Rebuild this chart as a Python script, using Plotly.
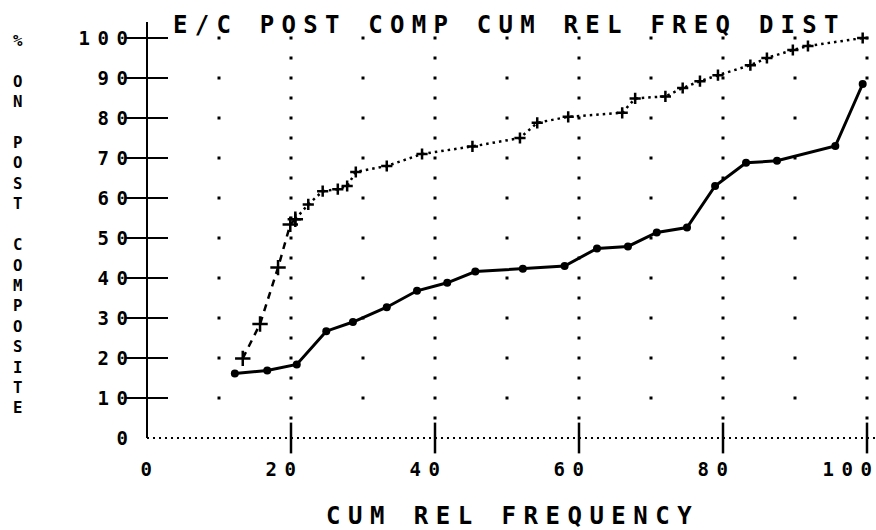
import plotly.graph_objects as go

# ---------------- data ----------------
title_text = "E/C POST COMP CUM REL FREQ DIST"
x_title = "CUM REL FREQUENCY"
y_title = "% ON POST COMPOSITE"

x_ticks = [0, 20, 40, 60, 80, 100]
y_ticks = [0, 10, 20, 30, 40, 50, 60, 70, 80, 90, 100]

# control group (solid line, filled dots)
lower_x = [12.2, 16.7, 20.8, 24.9, 28.6, 33.3, 37.5, 41.7, 45.6, 52.2,
           58.0, 62.5, 66.8, 70.8, 75.0, 78.9, 83.2, 87.5, 95.6, 99.4]
lower_y = [16.1, 16.9, 18.4, 26.7, 29.0, 32.7, 36.8, 38.8, 41.6, 42.3,
           43.0, 47.4, 47.9, 51.4, 52.6, 63.0, 68.8, 69.3, 73.0, 88.5]

# experimental group (dotted line, plus markers)
upper_x = [13.3, 15.7, 18.2, 19.9, 20.6, 22.4, 24.4, 26.5, 27.8, 29.0,
           33.3, 38.2, 45.2, 51.8, 54.2, 58.5, 66.0, 67.8, 72.0, 74.4,
           76.8, 79.3, 83.8, 86.1, 89.7, 91.8, 99.4]
upper_y = [19.9, 28.5, 42.6, 53.4, 54.7, 58.4, 61.7, 62.2, 63.0, 66.5,
           68.0, 71.0, 72.9, 75.0, 78.8, 80.3, 81.3, 84.9, 85.4, 87.5,
           89.2, 90.7, 93.2, 95.0, 97.0, 98.0, 100.0]
steep_end = 5  # first points drawn with the dashed stroke

# ---------------- styling ----------------
FONT = "DejaVu Sans Mono"
INK = "#000000"


def spaced(text, s):
    """Wide plotter-style lettering: extra spacing between characters only."""
    if len(text) < 2:
        return text
    return f'<span style="letter-spacing:{s}px">{text[:-1]}</span>{text[-1]}'


fig = go.Figure()

# dotted grid: dense columns at major x ticks, sparse at half ticks
major_cols = x_ticks[1:]
minor_cols = [(a + b) / 2 for a, b in zip(x_ticks[:-1], x_ticks[1:])]
half_rows = [(a + b) / 2 for a, b in zip(y_ticks[:-1], y_ticks[1:])]
gx, gy = [], []
for c in major_cols:
    for r in sorted(y_ticks[1:] + half_rows):
        gx.append(c)
        gy.append(r)
for c in minor_cols:
    for r in y_ticks[1:]:
        gx.append(c)
        gy.append(r)
fig.add_trace(go.Scatter(x=gx, y=gy, mode="markers", cliponaxis=False,
                         marker=dict(symbol="square", size=3, color=INK),
                         hoverinfo="skip", showlegend=False))

# y-axis tick crosses and x-axis tick bars
fig.add_trace(go.Scatter(x=[0] * (len(y_ticks) - 1), y=y_ticks[1:], mode="markers",
                         cliponaxis=False,
                         marker=dict(symbol="line-ew", size=30,
                                     line=dict(color=INK, width=2)),
                         hoverinfo="skip", showlegend=False))
fig.add_trace(go.Scatter(x=x_ticks[1:], y=[0] * (len(x_ticks) - 1), mode="markers",
                         cliponaxis=False,
                         marker=dict(symbol="line-ns", size=22,
                                     line=dict(color=INK, width=2.5)),
                         hoverinfo="skip", showlegend=False))

# lower series
fig.add_trace(go.Scatter(x=lower_x, y=lower_y, mode="lines+markers", cliponaxis=False,
                         line=dict(color=INK, width=3),
                         marker=dict(symbol="circle", size=8, color=INK),
                         showlegend=False))

# upper series: dashed steep start, dotted afterwards
fig.add_trace(go.Scatter(x=upper_x[:steep_end], y=upper_y[:steep_end],
                         mode="lines+markers", cliponaxis=False,
                         line=dict(color=INK, width=2.5, dash="7px,6px"),
                         marker=dict(symbol="cross-thin-open", size=11,
                                     line=dict(color=INK, width=2.5)),
                         showlegend=False))
fig.add_trace(go.Scatter(x=upper_x[steep_end - 1:], y=upper_y[steep_end - 1:],
                         mode="lines+markers", cliponaxis=False,
                         line=dict(color=INK, width=2.5, dash="2.5px,4px"),
                         marker=dict(symbol="cross-thin-open", size=8,
                                     line=dict(color=INK, width=2.5)),
                         showlegend=False))

TICK_FS = 19
TICK_SP = 7.6
tick_font = dict(family=FONT, size=TICK_FS, color=INK, weight="bold")
fig.update_xaxes(range=[0, 100], showgrid=False, zeroline=False, showline=False,
                 automargin=False, ticks="", tickvals=x_ticks,
                 ticktext=[spaced(str(v), TICK_SP) for v in x_ticks],
                 ticklabelposition="outside left", ticklabelshift=5,
                 ticklabeloverflow="allow", ticklabelstandoff=18,
                 tickfont=tick_font)
fig.update_yaxes(range=[0, 100], showgrid=False, zeroline=False, showline=False,
                 automargin=False, ticks="", tickvals=y_ticks,
                 ticktext=[spaced(str(v), TICK_SP) for v in y_ticks],
                 ticklabelstandoff=18, ticklabeloverflow="allow",
                 tickfont=tick_font)

shapes = [
    # solid y axis, slightly taller than the plot
    dict(type="line", xref="paper", yref="paper", x0=0, x1=0, y0=0, y1=1.04,
         line=dict(color=INK, width=2)),
    # dotted x axis
    dict(type="line", xref="paper", yref="paper", x0=0, x1=1.012, y0=0, y1=0,
         line=dict(color=INK, width=2, dash="2px,4px")),
]

title_font = dict(family=FONT, size=24, color=INK, weight="bold")
annotations = [
    dict(text=spaced(title_text, 7.25), xref="paper", yref="paper",
         x=0.0333, y=1.032, xanchor="left", yanchor="middle", showarrow=False,
         font=title_font),
    dict(text=spaced(x_title, 7.5), xref="paper", yref="paper",
         x=0.503, y=-0.195, xanchor="center", yanchor="middle", showarrow=False,
         font=title_font),
    dict(text="<br><br>".join("<br>".join(w) for w in y_title.split(" ")),
         xref="paper", yref="paper", x=-0.179, y=0.536,
         xanchor="center", yanchor="middle", showarrow=False,
         font=dict(family=FONT, size=15.7, color=INK, weight="bold")),
]

fig.update_layout(width=876, height=530,
                  margin=dict(l=147, r=9, t=38, b=92, autoexpand=False),
                  paper_bgcolor="white", plot_bgcolor="white",
                  shapes=shapes, annotations=annotations,
                  font=dict(family=FONT, color=INK))

fig.write_html("out.html", config={"displayModeBar": False},
               post_script="document.body.style.margin='0px';")
